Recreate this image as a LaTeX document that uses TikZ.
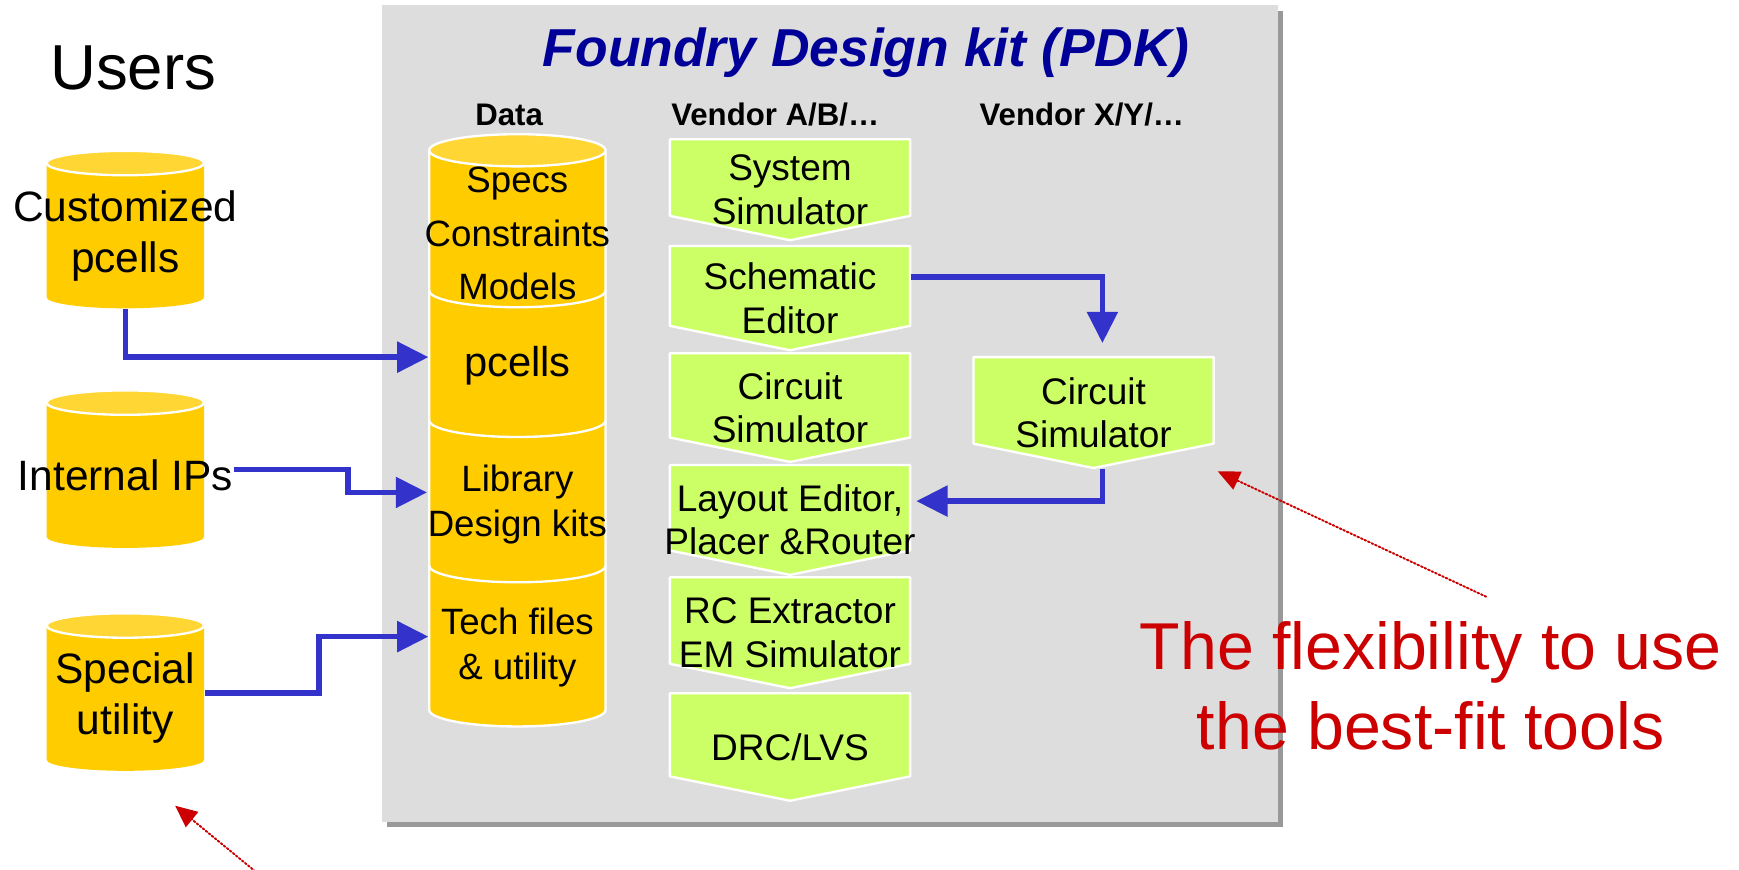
\documentclass[tikz,border=0pt]{standalone}
\usepackage{fontspec}
\setmainfont{Liberation Sans}
\usepackage{xcolor}
\usepackage{tikz}
\usetikzlibrary{arrows.meta,calc}
\definecolor{panelgray}{RGB}{221,221,221}
\definecolor{shadowgray}{RGB}{153,153,153}
\definecolor{dbyellow}{RGB}{255,204,0}
\definecolor{dbtopyellow}{RGB}{255,214,51}
\definecolor{toolgreen}{RGB}{204,255,102}
\definecolor{flowblue}{RGB}{51,51,204}
\definecolor{titleblue}{RGB}{0,0,153}
\definecolor{notered}{RGB}{204,0,0}
\tikzset{
  flow/.style={draw=flowblue,line width=1.4pt,line cap=butt,line join=miter,-{Triangle[length=8pt,width=7.7pt]}},
  note/.style={draw=notered,line width=0.5pt,dash pattern=on 0.45pt off 0.55pt,-{Triangle[length=5.6pt,width=5pt]}},
  dbline/.style={draw=white,line width=0.6pt},
  usertext/.style={align=center,inner sep=0pt,font=\fontsize{10.9}{13.1}\selectfont},
  datatext/.style={align=center,inner sep=0pt,minimum width=1.59cm,font=\fontsize{9.4}{11.6}\selectfont},
  tooltext/.style={align=center,inner sep=0pt,font=\fontsize{9.5}{11.1}\selectfont},
  headtext/.style={inner sep=0pt,font=\fontsize{8}{9.6}\selectfont\bfseries},
  titletext/.style={inner sep=0pt,text=titleblue,font=\fontsize{13.7}{16}\selectfont\bfseries\itshape},
  notetext/.style={align=center,inner sep=0pt,text=notered,font=\fontsize{17}{20.5}\selectfont}
}
% user data base: name, x, y of top ellipse, text
\newcommand{\usercyl}[4]{%
  \fill[dbyellow] (#2-0.71,#3) -- (#2-0.71,#3-1.21) arc (180:360:0.71 and 0.10) -- (#2+0.71,#3) -- cycle;
  \filldraw[fill=dbtopyellow,dbline] (#2,#3) ellipse (0.71 and 0.11);
  \node[usertext,minimum width=1.42cm,minimum height=1.31cm] (#1) at (#2,#3-0.655) {#4};
}
% tool step: name, x, y of top edge, height, text
\newcommand{\toolbox}[5]{%
  \filldraw[fill=toolgreen,dbline] (#2-1.083,#3) -- (#2+1.083,#3) -- (#2+1.083,#3-#4+0.22) -- (#2,#3-#4) -- (#2-1.083,#3-#4+0.22) -- cycle;
  \node[tooltext,minimum width=2.166cm,minimum height=#4 cm] (#1) at (#2,#3-#4/2) {#5};
}

\begin{document}
\begin{tikzpicture}[line cap=round,line join=round,x=1.0cm,y=1.0cm]
\useasboundingbox (0,0) rectangle (15.68,-7.84);
% PDK panel
\fill[shadowgray] (3.49,-0.095) rectangle (11.57,-7.46);
\fill[panelgray] (3.44,-0.045) rectangle (11.52,-7.41);
\node[titletext,anchor=base] (title) at (7.81,-0.60) {Foundry Design kit (PDK)};
\node[headtext,anchor=base] (hdata) at (4.59,-1.13) {Data};
\node[headtext,anchor=base] (hvendab) at (6.99,-1.13) {Vendor A/B/…};
\node[headtext,anchor=base] (hvendxy) at (9.755,-1.13) {Vendor X/Y/…};
\node[anchor=base,inner sep=0pt,font=\fontsize{16.3}{19}\selectfont] (users) at (1.20,-0.81) {Users};

% data stack
\fill[dbyellow] (3.87,-1.355) -- (3.87,-6.40) arc (180:360:0.795 and 0.15) -- (5.46,-1.355) -- cycle;
\draw[dbline] (3.87,-1.355) -- (3.87,-6.40) arc (180:360:0.795 and 0.15) -- (5.46,-1.355);
\foreach \y in {-2.62,-3.79,-5.10}
  \draw[dbline] (3.87,\y) arc (180:360:0.795 and 0.15);
\filldraw[fill=dbtopyellow,dbline] (4.665,-1.355) ellipse (0.795 and 0.145);
\node[datatext,font=\fontsize{9.4}{13.8}\selectfont] (dspec) at (4.665,-2.105) {Specs\\Constraints\\Models};
\node[datatext,font=\fontsize{10.7}{12.8}\selectfont] (dpcell) at (4.665,-3.30) {pcells};
\node[datatext,font=\fontsize{9.4}{11.7}\selectfont] (dlib) at (4.665,-4.55) {Library\\Design kits};
\node[datatext,font=\fontsize{9.4}{11.5}\selectfont] (dtech) at (4.665,-5.84) {Tech files\\\& utility};

% users
\usercyl{cust}{1.13}{-1.47}{Customized\\pcells}
\usercyl{intip}{1.13}{-3.63}{Internal IPs}
\usercyl{spec}{1.13}{-5.64}{Special\\utility}

% tools
\toolbox{syssim}{7.123}{-1.256}{0.91}{System\\Simulator}
\toolbox{schem}{7.123}{-2.218}{0.94}{Schematic\\Editor}
\toolbox{cirsim}{7.123}{-3.185}{0.98}{Circuit\\Simulator}
\toolbox{layout}{7.123}{-4.193}{0.99}{Layout Editor,\\Placer \&Router}
\toolbox{rcext}{7.123}{-5.205}{1.00}{RC Extractor\\EM Simulator}
\toolbox{drclvs}{7.123}{-6.25}{0.97}{DRC/LVS}
\toolbox{cirsimxy}{9.86}{-3.22}{1.00}{Circuit\\Simulator}

% flows
\draw[flow] (cust.south) |- ([yshift=0.08cm]dpcell.west);
\draw[flow] ([yshift=0.05cm]intip.east) -- ++(1.03,0) |- ([yshift=0.11cm]dlib.west);
\draw[flow] ([yshift=0.045cm]spec.east) -- ++(1.03,0) |- ([yshift=0.10cm]dtech.west);
\draw[flow] ([yshift=0.19cm]schem.east) -| ([xshift=0.08cm,yshift=0.12cm]cirsimxy.north);
\draw[flow] ([xshift=0.08cm]cirsimxy.south) |- ([yshift=0.17cm]layout.east);

% notes
\node[notetext] (flex) at (12.90,-6.18) {The flexibility to use\\the best-fit tools};
\coordinate (flextail) at (13.40,-5.38);
\coordinate (flextip) at (10.98,-4.25);
\coordinate (usertail) at (2.33,-7.88);
\coordinate (usertip) at (1.58,-7.265);
\draw[note] (flextail) -- (flextip);
\draw[note] (usertail) -- (usertip);
\end{tikzpicture}
\end{document}
